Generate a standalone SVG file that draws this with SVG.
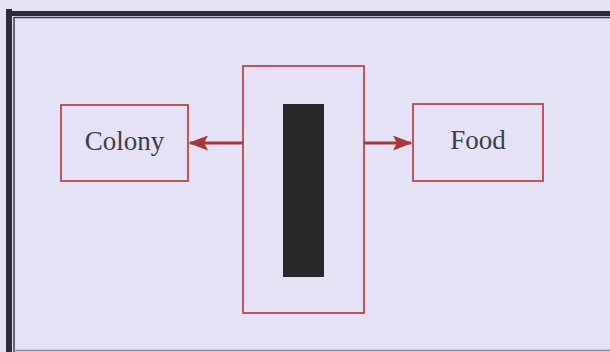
<svg xmlns="http://www.w3.org/2000/svg" width="610" height="352" viewBox="0 0 610 352">
  <defs>
    <marker id="arrowhead" markerWidth="6.5" markerHeight="5" refX="6" refY="2.5" orient="auto" markerUnits="strokeWidth">
      <path d="M0,0 L6.5,2.5 L0,5 L1.3,2.5 Z" fill="#a8363a"/>
    </marker>
  </defs>
  <style>
    .box { fill: none; stroke: #b8474c; stroke-width: 1.8; }
    .label { font-family: "Liberation Serif", "Times New Roman", serif; font-size: 27px; fill: #3c3c46; text-anchor: middle; }
    .conn { stroke: #a8363a; stroke-width: 3; fill: none; marker-end: url(#arrowhead); }
  </style>

  <!-- page background -->
  <rect x="0" y="0" width="610" height="352" fill="#e4e2f4"/>

  <!-- double frame -->
  <g id="frame">
    <rect x="6" y="9" width="6" height="343" fill="#2c2b36"/>
    <rect x="6" y="11" width="604" height="5" fill="#2c2b36"/>
    <line x1="14" y1="17.5" x2="610" y2="17.5" stroke="#3a3945" stroke-width="1.5"/>
    <line x1="14" y1="17" x2="14" y2="352" stroke="#3a3945" stroke-width="1.5"/>
    <line x1="14" y1="350.5" x2="610" y2="350.5" stroke="#8a8896" stroke-width="1.5"/>
  </g>

  <g id="colony">
    <rect class="box" x="61" y="105" width="127" height="76"/>
    <text class="label" x="124.5" y="150">Colony</text>
  </g>

  <g id="ants">
    <rect class="box" x="243" y="66" width="121" height="247"/>
    <rect x="283" y="104" width="41" height="173" fill="#2a2729"/>
  </g>

  <g id="food">
    <rect class="box" x="413" y="104" width="130" height="77"/>
    <text class="label" x="478" y="149">Food</text>
  </g>

  <g id="connectors">
    <line class="conn" x1="243" y1="143" x2="190" y2="143"/>
    <line class="conn" x1="364" y1="143" x2="411" y2="143"/>
  </g>
</svg>
